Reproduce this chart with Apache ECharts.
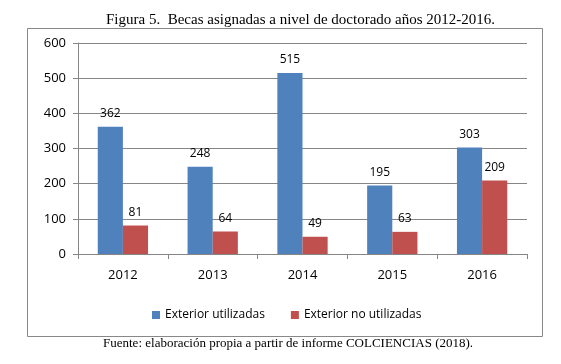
<!DOCTYPE html>
<html><head><meta charset="utf-8">
<script src="https://cdn.jsdelivr.net/npm/echarts@6/dist/echarts.min.js"></script>
<style>html,body{margin:0;padding:0;background:#fff}#c{width:561px;height:364px}</style>
</head><body><div id="c"></div>
<script>
const categories = ['2012','2013','2014','2015','2016'];
const utilizadas = [362,248,515,195,303];
const noUtilizadas = [81,64,49,63,209];
const seriesNames = ['Exterior utilizadas','Exterior no utilizadas'];
const yTicks = {min:0,max:600,interval:100};

const chart = echarts.init(document.getElementById('c'));
const lbl = {show:true,position:'top',distance:7,color:'#000',fontFamily:'Open Sans',fontSize:12};
chart.setOption({
  animation:false,
  title:{text:'Figura 5.  Becas asignadas a nivel de doctorado años 2012-2016.',left:101,top:8,
    textStyle:{fontFamily:'Liberation Serif',fontWeight:'normal',fontSize:15,color:'#000'}},
  graphic:[
    {type:'rect',shape:{x:27.5,y:28.5,width:515,height:308},style:{fill:'none',stroke:'#888',lineWidth:1}},
    {type:'text',left:103,top:337,style:{text:'Fuente: elaboración propia a partir de informe COLCIENCIAS (2018).',font:'13px "Liberation Serif"',fill:'#000'}}
  ],
  legend:{top:304,left:147,itemWidth:8,itemHeight:8,itemGap:26,icon:'rect',
    textStyle:{fontFamily:'Open Sans',fontSize:12,color:'#000'}},
  grid:{left:78,right:34,top:43,bottom:110},
  xAxis:{type:'category',data:categories,
    axisLine:{lineStyle:{color:'#868686'}},
    axisTick:{show:true,length:5,lineStyle:{color:'#868686'}},
    axisLabel:{margin:15,color:'#000',fontFamily:'Open Sans',fontSize:13}},
  yAxis:{type:'value',min:yTicks.min,max:yTicks.max,interval:yTicks.interval,
    axisLine:{show:true,lineStyle:{color:'#868686'}},
    axisTick:{show:true,length:5,lineStyle:{color:'#868686'}},
    splitLine:{lineStyle:{color:'#868686'}},
    axisLabel:{margin:12,color:'#000',fontFamily:'Open Sans',fontSize:13}},
  series:[
    {name:seriesNames[0],type:'bar',data:utilizadas,barGap:'0%',barCategoryGap:'44%',
      itemStyle:{color:'#4F81BD'},label:lbl},
    {name:seriesNames[1],type:'bar',data:noUtilizadas,
      itemStyle:{color:'#C0504D'},label:lbl}
  ]
});
</script></body></html>
